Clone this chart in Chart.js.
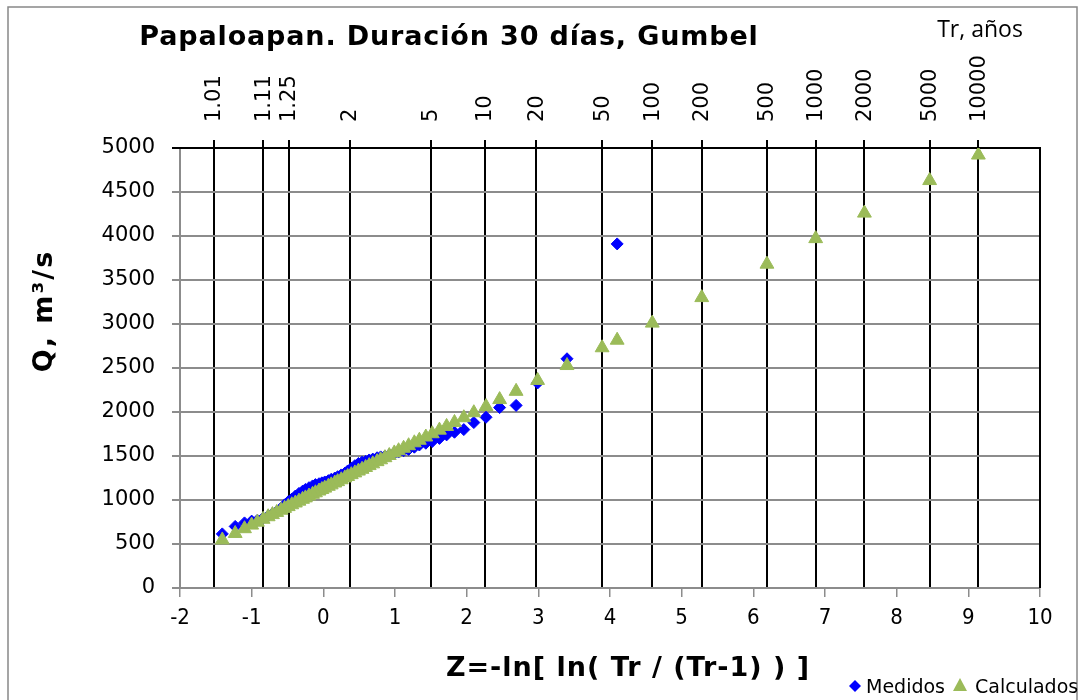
<!DOCTYPE html>
<html>
<head>
<meta charset="utf-8">
<script src="https://cdn.jsdelivr.net/npm/chart.js@4/dist/chart.umd.min.js"></script>
<style>
  html, body { margin: 0; padding: 0; background: #fff; }
  #wrap { width: 1083px; height: 700px; }
</style>
</head>
<body>
<div id="wrap"><canvas id="gumbelChart" width="1083" height="700"></canvas></div>
<script>
// Return periods shown on the top axis and their reduced variate Z
const trLabels = ['1.01', '1.11', '1.25', '2', '5', '10', '20', '50', '100', '200', '500', '1000', '2000', '5000', '10000'];
const trZ = [-1.53, -0.84, -0.48, 0.37, 1.50, 2.25, 2.97, 3.89, 4.59, 5.28, 6.19, 6.87, 7.55, 8.46, 9.14];

// Medidos (measured flows)
const medZ = [4.10, 3.40, 2.99, 2.69, 2.46, 2.27, 2.10, 1.96, 1.83, 1.72, 1.62, 1.52, 1.43, 1.34, 1.27, 1.19, 1.12, 1.05, 0.99, 0.92,
  0.86, 0.80, 0.75, 0.69, 0.64, 0.59, 0.54, 0.49, 0.44, 0.39, 0.34, 0.30, 0.25, 0.20, 0.16, 0.11, 0.07, 0.02, -0.02, -0.06,
  -0.11, -0.15, -0.20, -0.25, -0.29, -0.34, -0.39, -0.44, -0.49, -0.54, -0.59, -0.65, -0.71, -0.77, -0.84, -0.92, -1.00, -1.10, -1.23, -1.41];
const medQ = [3910, 2605, 2330, 2075, 2050, 1940, 1880, 1800, 1770, 1740, 1700, 1665, 1645, 1625, 1600, 1575, 1560, 1545, 1530, 1515,
  1500, 1490, 1480, 1465, 1455, 1440, 1430, 1415, 1390, 1360, 1330, 1305, 1285, 1265, 1250, 1235, 1220, 1205, 1195, 1185,
  1175, 1160, 1140, 1120, 1100, 1075, 1045, 1010, 980, 945, 905, 870, 845, 820, 795, 770, 760, 740, 700, 615];

// Calculados (Gumbel fit)
const calZ = [4.10, 3.40, 2.99, 2.69, 2.46, 2.27, 2.10, 1.96, 1.83, 1.72, 1.62, 1.52, 1.43, 1.34, 1.27, 1.19, 1.12, 1.05, 0.99, 0.92,
  0.86, 0.80, 0.75, 0.69, 0.64, 0.59, 0.54, 0.49, 0.44, 0.39, 0.34, 0.30, 0.25, 0.20, 0.16, 0.11, 0.07, 0.02, -0.02, -0.06,
  -0.11, -0.15, -0.20, -0.25, -0.29, -0.34, -0.39, -0.44, -0.49, -0.54, -0.59, -0.65, -0.71, -0.77, -0.84, -0.92, -1.00, -1.10, -1.23, -1.41,
  3.89, 4.59, 5.28, 6.19, 6.87, 7.55, 8.46, 9.14];
const calQ = [2816, 2528, 2359, 2235, 2141, 2062, 1992, 1935, 1881, 1836, 1794, 1753, 1716, 1679, 1650, 1617, 1588, 1560, 1535, 1506,
  1481, 1457, 1436, 1411, 1391, 1370, 1349, 1329, 1308, 1288, 1267, 1251, 1230, 1209, 1193, 1172, 1156, 1135, 1119, 1102,
  1082, 1065, 1045, 1024, 1008, 987, 966, 946, 925, 905, 884, 859, 834, 810, 781, 748, 715, 674, 620, 546,
  2730, 3010, 3300, 3680, 3970, 4260, 4630, 4920];

const BLUE = '#0000FF';
const GREEN = '#9BBB59';
const GRID = '#8c8c8c';

// Frame, title, top labels, axis titles and legend
const decor = {
  id: 'decor',
  beforeDatasetsDraw(chart) {
    const { ctx, chartArea: a } = chart;
    ctx.save();
    ctx.strokeStyle = '#000';
    ctx.lineWidth = 2;
    ctx.beginPath();
    ctx.moveTo(a.left - 8, a.top);
    ctx.lineTo(a.right, a.top);
    ctx.lineTo(a.right, a.bottom);
    ctx.stroke();
    ctx.restore();
  },
  afterDraw(chart) {
    const ctx = chart.ctx;
    const top = chart.scales.xTop;
    ctx.save();
    // outer border
    ctx.strokeStyle = '#888';
    ctx.lineWidth = 1.5;
    ctx.strokeRect(8, 7, 1069, 710);

    ctx.fillStyle = '#000';

    // Tr labels, rotated
    ctx.font = '21px "DejaVu Sans"';
    ctx.textAlign = 'left';
    ctx.textBaseline = 'middle';
    trZ.forEach((z, i) => {
      ctx.save();
      ctx.translate(top.getPixelForValue(z) + 1, 122);
      ctx.rotate(-Math.PI / 2);
      ctx.fillText(trLabels[i], 0, 0);
      ctx.restore();
    });

    ctx.textAlign = 'center';
    ctx.textBaseline = 'alphabetic';
    ctx.font = 'bold 27px "DejaVu Sans"';
    ctx.letterSpacing = '0.85px';
    ctx.fillText('Papaloapan. Duración 30 días, Gumbel', 449, 45);

    ctx.letterSpacing = '1px';
    ctx.fillText('Z=-ln[ ln( Tr / (Tr-1) ) ]', 628, 676);

    ctx.save();
    ctx.translate(52, 311);
    ctx.rotate(-Math.PI / 2);
    ctx.letterSpacing = '2px';
    ctx.fillText('Q, m³/s', 0, 0);
    ctx.restore();

    ctx.letterSpacing = '0px';
    ctx.font = '23px "Open Sans"';
    ctx.fillText('Tr, años', 980, 37);

    // legend
    ctx.font = '19px "DejaVu Sans"';
    ctx.textAlign = 'left';
    ctx.fillStyle = BLUE;
    ctx.beginPath();
    ctx.moveTo(855, 680); ctx.lineTo(861, 686); ctx.lineTo(855, 692); ctx.lineTo(849, 686);
    ctx.closePath(); ctx.fill();
    ctx.fillStyle = '#000';
    ctx.fillText('Medidos', 866, 693);
    ctx.fillStyle = GREEN;
    ctx.beginPath();
    ctx.moveTo(960, 678); ctx.lineTo(967, 691); ctx.lineTo(953, 691);
    ctx.closePath(); ctx.fill();
    ctx.fillStyle = '#000';
    ctx.fillText('Calculados', 975, 693);
    ctx.restore();
  }
};

const ctx = document.getElementById('gumbelChart').getContext('2d');
new Chart(ctx, {
  type: 'scatter',
  data: {
    datasets: [
      {
        label: 'Medidos',
        data: medZ.map((z, i) => ({ x: z, y: medQ[i] })),
        pointStyle: 'rectRot',
        pointRadius: 6,
        backgroundColor: BLUE,
        borderColor: BLUE,
        borderWidth: 1,
        order: 2
      },
      {
        label: 'Calculados',
        data: calZ.map((z, i) => ({ x: z, y: calQ[i] })),
        pointStyle: 'triangle',
        pointRadius: 8,
        backgroundColor: GREEN,
        borderColor: GREEN,
        borderWidth: 1,
        order: 1
      }
    ]
  },
  options: {
    responsive: false,
    animation: false,
    devicePixelRatio: 1,
    layout: { padding: { left: 0, right: 43, top: 0, bottom: 0 } },
    plugins: { legend: { display: false }, title: { display: false }, tooltip: { enabled: false } },
    scales: {
      x: {
        type: 'linear',
        position: 'bottom',
        min: -2,
        max: 10,
        ticks: { stepSize: 1, color: '#000', padding: 8, maxRotation: 0,
          font: { family: '"Liberation Sans Narrow", "DejaVu Sans Condensed", sans-serif', size: 22 } },
        grid: { drawOnChartArea: false, color: GRID, lineWidth: 1.5, tickLength: 9 },
        border: { color: GRID, width: 2 },
        afterFit: s => { s.height = 112; }
      },
      xTop: {
        type: 'linear',
        position: 'top',
        min: -2,
        max: 10,
        afterBuildTicks: s => { s.ticks = trZ.map(v => ({ value: v })); },
        ticks: { display: false, autoSkip: false },
        grid: { color: '#000', lineWidth: 2, tickLength: 8 },
        border: { color: '#000', width: 2 },
        afterFit: s => { s.height = 148; }
      },
      y: {
        min: 0,
        max: 5000,
        ticks: { stepSize: 500, color: '#000', padding: 17, font: { family: '"DejaVu Sans"', size: 21 },
          callback: v => String(v) },
        grid: { color: GRID, lineWidth: 2, tickLength: 8 },
        border: { color: GRID, width: 2 },
        afterFit: s => { s.height; s.width = 180; }
      }
    }
  },
  plugins: [decor]
});
</script>
</body>
</html>
